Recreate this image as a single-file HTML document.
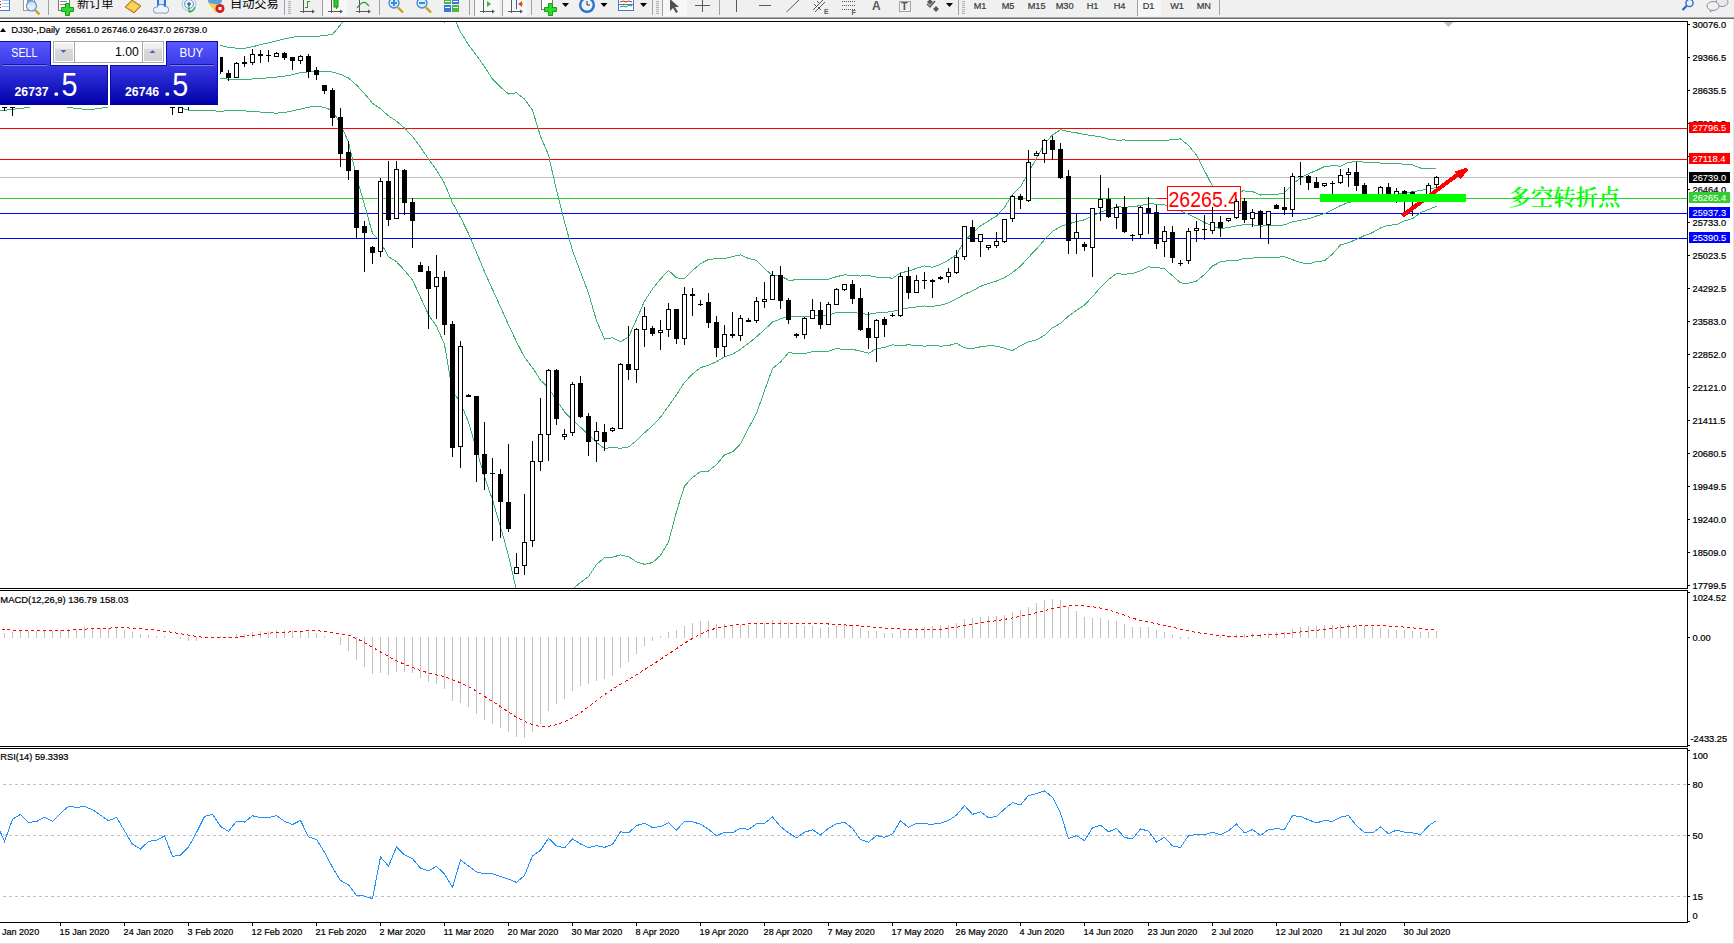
<!DOCTYPE html><html><head><meta charset="utf-8"><title>DJ30-,Daily</title>
<style>html,body{margin:0;padding:0;background:#fff;overflow:hidden}svg{display:block}</style></head><body>
<svg width="1734" height="944" viewBox="0 0 1734 944" font-family='"Liberation Sans", Arial, sans-serif'>
<defs>
<clipPath id="cm"><rect x="0" y="22" width="1687" height="566"/></clipPath>
<clipPath id="cmacd"><rect x="0" y="591" width="1687" height="155"/></clipPath>
<clipPath id="crsi"><rect x="0" y="749" width="1687" height="173"/></clipPath>
<linearGradient id="gpanel" x1="0" y1="0" x2="0" y2="1"><stop offset="0" stop-color="#5a5aff"/><stop offset="0.35" stop-color="#3c3ce8"/><stop offset="1" stop-color="#0000a8"/></linearGradient>
<linearGradient id="gpanel2" x1="0" y1="0" x2="0" y2="1"><stop offset="0" stop-color="#3a32e2"/><stop offset="1" stop-color="#0202aa"/></linearGradient>
<linearGradient id="gbtn" x1="0" y1="0" x2="0" y2="1"><stop offset="0" stop-color="#f2f2f2"/><stop offset="0.35" stop-color="#ececec"/><stop offset="0.36" stop-color="#dadada"/><stop offset="1" stop-color="#d2d2d2"/></linearGradient>
</defs>
<rect width="1734" height="944" fill="#ffffff"/>
<g id="toolbar">
<rect x="0" y="0" width="1734" height="17" fill="#f0f0f0"/>
<rect x="0" y="17" width="1734" height="1" fill="#a9a9a9"/>
<rect x="0" y="18" width="1734" height="1" fill="#6e6e6e"/>
</g>
<rect x="1733" y="19" width="1" height="925" fill="#e3e3e3"/>
<rect x="0" y="943" width="1734" height="1" fill="#e3e3e3"/>
<g id="main">
<g shape-rendering="crispEdges">
<rect x="0" y="128" width="1687" height="1" fill="#ff0000"/>
<rect x="0" y="159" width="1687" height="1" fill="#ff0000"/>
<rect x="0" y="177" width="1687" height="1" fill="#c0c0c0"/>
<rect x="0" y="198" width="1687" height="1" fill="#32cd32"/>
<rect x="0" y="213" width="1687" height="1" fill="#0000ff"/>
<rect x="0" y="238" width="1687" height="1" fill="#0000ff"/>
</g>
<g clip-path="url(#cm)">
<polyline points="-4.5,81.94 4.5,82.52 12.5,82.79 20.5,80.19 28.5,79.07 36.5,78.19 44.5,77.39 52.5,75.82 60.5,73.47 68.5,68.43 76.5,63.40 84.5,59.59 92.5,56.64 100.5,54.75 108.5,53.27 116.5,52.75 124.5,53.01 132.5,53.00 140.5,52.62 148.5,52.79 156.5,52.84 164.5,55.20 172.5,53.24 180.5,51.70 188.5,51.15 196.5,51.18 204.5,49.31 212.5,47.01 220.5,45.50 228.5,47.40 236.5,48.20 244.5,48.20 252.5,46.80 260.5,44.66 268.5,42.90 276.5,40.89 284.5,38.95 292.5,37.12 300.5,36.50 308.5,36.50 316.5,36.50 324.5,35.40 332.5,34.50 340.5,24.90 348.5,13.65 356.5,-6.68 364.5,-17.81 372.5,-26.61 380.5,-24.55 388.5,-25.06 396.5,-19.38 404.5,-14.17 412.5,-7.05 420.5,-2.77 428.5,2.97 436.5,14.02 444.5,22.41 452.5,14.56 460.5,31.87 468.5,44.97 476.5,55.32 484.5,66.71 492.5,79.23 500.5,86.99 508.5,94.03 516.5,92.83 524.5,99.01 532.5,110.28 540.5,136.34 548.5,155.05 556.5,190.13 564.5,221.90 572.5,250.63 580.5,272.01 588.5,293.17 596.5,320.66 604.5,339.06 612.5,337.69 620.5,341.68 628.5,337.13 636.5,319.53 644.5,301.20 652.5,288.93 660.5,278.97 668.5,270.33 676.5,277.89 684.5,278.75 692.5,270.58 700.5,263.62 708.5,259.48 716.5,258.66 724.5,258.59 732.5,256.63 740.5,254.91 748.5,258.45 756.5,260.30 764.5,268.62 772.5,275.54 780.5,275.77 788.5,280.17 796.5,279.91 804.5,280.00 812.5,279.56 820.5,279.64 828.5,279.15 836.5,276.68 844.5,274.90 852.5,275.29 860.5,276.02 868.5,275.47 876.5,277.13 884.5,277.53 892.5,278.17 900.5,272.84 908.5,271.20 916.5,268.26 924.5,265.86 932.5,267.19 940.5,264.35 948.5,260.10 956.5,254.57 964.5,240.72 972.5,233.26 980.5,225.90 988.5,220.96 996.5,215.96 1004.5,207.36 1012.5,194.53 1020.5,186.60 1028.5,172.78 1036.5,158.09 1044.5,144.15 1052.5,134.97 1060.5,129.67 1068.5,131.67 1076.5,132.80 1084.5,134.49 1092.5,135.62 1100.5,136.73 1108.5,139.09 1116.5,140.07 1124.5,139.98 1132.5,140.25 1140.5,140.08 1148.5,140.90 1156.5,140.68 1164.5,140.51 1172.5,139.70 1180.5,138.86 1188.5,145.47 1196.5,155.07 1204.5,170.62 1212.5,186.24 1220.5,195.42 1228.5,194.46 1236.5,191.05 1244.5,190.99 1252.5,191.55 1260.5,195.02 1268.5,194.26 1276.5,194.59 1284.5,192.88 1292.5,183.93 1300.5,178.08 1308.5,173.62 1316.5,170.48 1324.5,166.46 1332.5,165.76 1340.5,166.12 1348.5,162.42 1356.5,161.49 1364.5,162.09 1372.5,162.41 1380.5,163.03 1388.5,163.64 1396.5,163.25 1404.5,164.37 1412.5,164.91 1420.5,168.04 1428.5,168.74 1436.5,168.68" fill="none" stroke="#3cb371" stroke-width="1" shape-rendering="crispEdges" />
<polyline points="-4.5,100.89 4.5,100.49 12.5,99.45 20.5,97.56 28.5,96.20 36.5,94.90 44.5,93.40 52.5,92.11 60.5,90.80 68.5,88.89 76.5,87.04 84.5,85.17 92.5,83.64 100.5,82.36 108.5,81.13 116.5,79.54 124.5,78.52 132.5,78.80 140.5,79.05 148.5,78.84 156.5,78.75 164.5,77.50 172.5,78.15 180.5,79.60 188.5,80.40 196.5,80.45 204.5,79.55 212.5,78.55 220.5,78.40 228.5,79.15 236.5,79.30 244.5,79.45 252.5,79.00 260.5,78.45 268.5,77.85 276.5,77.05 284.5,76.10 292.5,74.75 300.5,72.65 308.5,71.80 316.5,71.15 324.5,71.55 332.5,72.05 340.5,74.40 348.5,77.95 356.5,85.10 364.5,93.60 372.5,103.30 380.5,108.75 388.5,115.85 396.5,121.15 404.5,128.10 412.5,136.45 420.5,147.25 428.5,158.90 436.5,170.10 444.5,183.45 452.5,202.80 460.5,217.30 468.5,233.55 476.5,252.55 484.5,271.70 492.5,289.50 500.5,306.90 508.5,324.80 516.5,341.75 524.5,357.20 532.5,367.60 540.5,380.25 548.5,387.75 556.5,400.25 564.5,411.80 572.5,419.95 580.5,427.20 588.5,434.85 596.5,442.55 604.5,448.40 612.5,447.40 620.5,448.30 628.5,446.95 636.5,440.65 644.5,432.75 652.5,425.75 660.5,417.15 668.5,406.15 676.5,394.75 684.5,382.35 692.5,374.10 700.5,367.60 708.5,365.25 716.5,361.70 724.5,356.70 732.5,354.30 740.5,349.35 748.5,343.35 756.5,336.85 764.5,329.70 772.5,322.05 780.5,318.90 788.5,316.40 796.5,316.75 804.5,316.85 812.5,315.65 820.5,315.40 828.5,315.15 836.5,312.65 844.5,312.15 852.5,312.30 860.5,313.60 868.5,314.35 876.5,312.95 884.5,312.50 892.5,311.50 900.5,309.40 908.5,307.95 916.5,306.90 924.5,306.00 932.5,306.35 940.5,305.25 948.5,302.85 956.5,298.90 964.5,294.30 972.5,290.90 980.5,286.35 988.5,283.40 996.5,281.00 1004.5,277.75 1012.5,272.60 1020.5,266.10 1028.5,257.30 1036.5,248.95 1044.5,239.70 1052.5,231.40 1060.5,226.50 1068.5,223.90 1076.5,221.50 1084.5,219.80 1092.5,216.10 1100.5,212.10 1108.5,209.35 1116.5,206.85 1124.5,207.15 1132.5,206.85 1140.5,205.50 1148.5,203.90 1156.5,204.05 1164.5,204.65 1172.5,207.75 1180.5,210.90 1188.5,214.35 1196.5,218.10 1204.5,222.55 1212.5,226.15 1220.5,228.65 1228.5,227.50 1236.5,225.95 1244.5,224.60 1252.5,224.80 1260.5,226.10 1268.5,225.80 1276.5,225.90 1284.5,224.80 1292.5,221.80 1300.5,220.30 1308.5,218.80 1316.5,216.00 1324.5,213.60 1332.5,209.90 1340.5,205.50 1348.5,202.55 1356.5,200.45 1364.5,198.80 1372.5,197.55 1380.5,195.50 1388.5,194.45 1396.5,193.95 1404.5,192.65 1412.5,191.80 1420.5,190.40 1428.5,189.10 1436.5,187.50" fill="none" stroke="#3cb371" stroke-width="1" shape-rendering="crispEdges" />
<polyline points="-4.5,111.00 4.5,110.40 12.5,109.30 20.5,108.40 28.5,107.40 36.5,105.00 44.5,104.00 52.5,104.00 60.5,105.00 68.5,107.50 76.5,108.50 84.5,109.30 92.5,109.30 100.5,108.30 108.5,107.00 116.5,105.00 124.5,104.00 132.5,103.00 140.5,103.00 148.5,103.00 156.5,103.00 164.5,104.00 172.5,105.00 180.5,108.00 188.5,110.20 196.5,110.20 204.5,110.20 212.5,110.80 220.5,111.27 228.5,110.62 236.5,110.51 244.5,110.94 252.5,111.42 260.5,112.03 268.5,112.71 276.5,113.13 284.5,112.55 292.5,110.95 300.5,109.02 308.5,107.18 316.5,106.44 324.5,107.20 332.5,110.79 340.5,123.90 348.5,142.25 356.5,176.88 364.5,205.01 372.5,233.21 380.5,242.05 388.5,256.76 396.5,261.68 404.5,270.37 412.5,279.95 420.5,297.27 428.5,314.83 436.5,326.18 444.5,344.49 452.5,391.04 460.5,402.73 468.5,422.13 476.5,449.78 484.5,476.69 492.5,499.77 500.5,526.81 508.5,555.57 516.5,590.67 524.5,615.39 532.5,624.92 540.5,624.16 548.5,620.45 556.5,610.37 564.5,601.70 572.5,589.27 580.5,582.39 588.5,576.53 596.5,564.44 604.5,557.74 612.5,557.11 620.5,554.92 628.5,556.77 636.5,561.77 644.5,564.30 652.5,562.57 660.5,555.33 668.5,541.97 676.5,511.61 684.5,485.95 692.5,477.62 700.5,471.58 708.5,471.02 716.5,464.74 724.5,454.81 732.5,451.97 740.5,443.79 748.5,428.25 756.5,413.40 764.5,390.78 772.5,368.56 780.5,362.03 788.5,352.63 796.5,353.59 804.5,353.70 812.5,351.74 820.5,351.16 828.5,351.15 836.5,348.62 844.5,349.40 852.5,349.31 860.5,351.18 868.5,353.23 876.5,348.77 884.5,347.47 892.5,344.83 900.5,345.96 908.5,344.70 916.5,345.54 924.5,346.14 932.5,345.51 940.5,346.15 948.5,345.60 956.5,343.23 964.5,347.88 972.5,348.54 980.5,346.80 988.5,345.84 996.5,346.04 1004.5,348.14 1012.5,350.67 1020.5,345.60 1028.5,341.82 1036.5,339.81 1044.5,335.25 1052.5,327.83 1060.5,323.33 1068.5,316.13 1076.5,310.20 1084.5,305.11 1092.5,296.58 1100.5,287.47 1108.5,279.61 1116.5,273.63 1124.5,274.32 1132.5,273.45 1140.5,270.92 1148.5,266.90 1156.5,267.42 1164.5,268.79 1172.5,275.80 1180.5,282.94 1188.5,283.23 1196.5,281.13 1204.5,274.48 1212.5,266.06 1220.5,261.88 1228.5,260.54 1236.5,260.85 1244.5,258.21 1252.5,258.05 1260.5,257.18 1268.5,257.34 1276.5,257.21 1284.5,256.72 1292.5,259.67 1300.5,262.52 1308.5,263.98 1316.5,261.52 1324.5,260.74 1332.5,254.04 1340.5,244.88 1348.5,242.68 1356.5,239.41 1364.5,235.51 1372.5,232.69 1380.5,227.97 1388.5,225.26 1396.5,224.65 1404.5,220.93 1412.5,218.69 1420.5,212.76 1428.5,209.46 1436.5,206.32" fill="none" stroke="#3cb371" stroke-width="1" shape-rendering="crispEdges" />
</g>
<rect x="1157" y="198" width="10" height="1" fill="#ff0000"/>
<rect x="1167.5" y="186.5" width="73" height="24" fill="#ffffff" stroke="#ff0000" stroke-width="1"/>
<text x="1168.5" y="207" font-size="22.8" fill="#ff0000" textLength="70.5" lengthAdjust="spacingAndGlyphs">26265.4</text>
<g shape-rendering="crispEdges" clip-path="url(#cm)">
<rect x="4" y="90" width="1" height="21" fill="#000"/>
<rect x="2" y="93" width="5" height="15" fill="#000"/>
<rect x="12" y="93" width="1" height="23" fill="#000"/>
<rect x="10" y="95" width="5" height="13" fill="#000"/>
<rect x="11" y="96" width="3" height="11" fill="#fff"/>
<rect x="20" y="76" width="1" height="24" fill="#000"/>
<rect x="18" y="78" width="5" height="17" fill="#000"/>
<rect x="19" y="79" width="3" height="15" fill="#fff"/>
<rect x="28" y="73" width="1" height="13" fill="#000"/>
<rect x="26" y="78" width="5" height="6" fill="#000"/>
<rect x="36" y="81" width="1" height="8" fill="#000"/>
<rect x="34" y="84" width="5" height="1" fill="#000"/>
<rect x="44" y="77" width="1" height="12" fill="#000"/>
<rect x="42" y="81" width="5" height="3" fill="#000"/>
<rect x="43" y="82" width="3" height="1" fill="#fff"/>
<rect x="52" y="78" width="1" height="8" fill="#000"/>
<rect x="50" y="79" width="5" height="2" fill="#000"/>
<rect x="60" y="74" width="1" height="9" fill="#000"/>
<rect x="58" y="75" width="5" height="4" fill="#000"/>
<rect x="59" y="76" width="3" height="2" fill="#fff"/>
<rect x="68" y="60" width="1" height="20" fill="#000"/>
<rect x="66" y="63" width="5" height="12" fill="#000"/>
<rect x="67" y="64" width="3" height="10" fill="#fff"/>
<rect x="76" y="58" width="1" height="7" fill="#000"/>
<rect x="74" y="60" width="5" height="3" fill="#000"/>
<rect x="75" y="61" width="3" height="1" fill="#fff"/>
<rect x="84" y="56" width="1" height="10" fill="#000"/>
<rect x="82" y="60" width="5" height="1" fill="#000"/>
<rect x="92" y="56" width="1" height="11" fill="#000"/>
<rect x="90" y="61" width="5" height="2" fill="#000"/>
<rect x="100" y="59" width="1" height="10" fill="#000"/>
<rect x="98" y="63" width="5" height="4" fill="#000"/>
<rect x="108" y="65" width="1" height="5" fill="#000"/>
<rect x="106" y="67" width="5" height="1" fill="#000"/>
<rect x="116" y="63" width="1" height="10" fill="#000"/>
<rect x="114" y="68" width="5" height="1" fill="#000"/>
<rect x="124" y="68" width="1" height="10" fill="#000"/>
<rect x="122" y="69" width="5" height="8" fill="#000"/>
<rect x="132" y="75" width="1" height="18" fill="#000"/>
<rect x="130" y="77" width="5" height="11" fill="#000"/>
<rect x="140" y="87" width="1" height="14" fill="#000"/>
<rect x="138" y="88" width="5" height="10" fill="#000"/>
<rect x="148" y="88" width="1" height="13" fill="#000"/>
<rect x="146" y="89" width="5" height="9" fill="#000"/>
<rect x="147" y="90" width="3" height="7" fill="#fff"/>
<rect x="156" y="84" width="1" height="10" fill="#000"/>
<rect x="154" y="88" width="5" height="1" fill="#000"/>
<rect x="164" y="79" width="1" height="13" fill="#000"/>
<rect x="162" y="83" width="5" height="5" fill="#000"/>
<rect x="163" y="84" width="3" height="3" fill="#fff"/>
<rect x="172" y="88" width="1" height="27" fill="#000"/>
<rect x="170" y="92" width="5" height="16" fill="#000"/>
<rect x="180" y="100" width="1" height="13" fill="#000"/>
<rect x="178" y="107" width="5" height="6" fill="#000"/>
<rect x="179" y="108" width="3" height="4" fill="#fff"/>
<rect x="188" y="98" width="1" height="12" fill="#000"/>
<rect x="186" y="100" width="5" height="7" fill="#000"/>
<rect x="187" y="101" width="3" height="5" fill="#fff"/>
<rect x="196" y="81" width="1" height="23" fill="#000"/>
<rect x="194" y="85" width="5" height="15" fill="#000"/>
<rect x="195" y="86" width="3" height="13" fill="#fff"/>
<rect x="204" y="59" width="1" height="28" fill="#000"/>
<rect x="202" y="63" width="5" height="22" fill="#000"/>
<rect x="203" y="64" width="3" height="20" fill="#fff"/>
<rect x="212" y="56" width="1" height="8" fill="#000"/>
<rect x="210" y="59" width="5" height="4" fill="#000"/>
<rect x="211" y="60" width="3" height="2" fill="#fff"/>
<rect x="220" y="57" width="1" height="17" fill="#000"/>
<rect x="218" y="57" width="5" height="15" fill="#000"/>
<rect x="228" y="70" width="1" height="11" fill="#000"/>
<rect x="226" y="73" width="5" height="5" fill="#000"/>
<rect x="236" y="62" width="1" height="16" fill="#000"/>
<rect x="234" y="63" width="5" height="15" fill="#000"/>
<rect x="235" y="64" width="3" height="13" fill="#fff"/>
<rect x="244" y="56" width="1" height="11" fill="#000"/>
<rect x="242" y="62" width="5" height="2" fill="#000"/>
<rect x="252" y="49" width="1" height="16" fill="#000"/>
<rect x="250" y="54" width="5" height="9" fill="#000"/>
<rect x="251" y="55" width="3" height="7" fill="#fff"/>
<rect x="260" y="50" width="1" height="13" fill="#000"/>
<rect x="258" y="54" width="5" height="2" fill="#000"/>
<rect x="268" y="50" width="1" height="12" fill="#000"/>
<rect x="266" y="55" width="5" height="1" fill="#000"/>
<rect x="276" y="52" width="1" height="5" fill="#000"/>
<rect x="274" y="53" width="5" height="4" fill="#000"/>
<rect x="275" y="54" width="3" height="2" fill="#fff"/>
<rect x="284" y="52" width="1" height="8" fill="#000"/>
<rect x="282" y="53" width="5" height="5" fill="#000"/>
<rect x="292" y="57" width="1" height="13" fill="#000"/>
<rect x="290" y="57" width="5" height="4" fill="#000"/>
<rect x="300" y="55" width="1" height="9" fill="#000"/>
<rect x="298" y="56" width="5" height="5" fill="#000"/>
<rect x="299" y="57" width="3" height="3" fill="#fff"/>
<rect x="308" y="54" width="1" height="24" fill="#000"/>
<rect x="306" y="56" width="5" height="16" fill="#000"/>
<rect x="316" y="67" width="1" height="13" fill="#000"/>
<rect x="314" y="70" width="5" height="5" fill="#000"/>
<rect x="324" y="85" width="1" height="9" fill="#000"/>
<rect x="322" y="85" width="5" height="6" fill="#000"/>
<rect x="332" y="88" width="1" height="38" fill="#000"/>
<rect x="330" y="90" width="5" height="28" fill="#000"/>
<rect x="340" y="108" width="1" height="59" fill="#000"/>
<rect x="338" y="117" width="5" height="37" fill="#000"/>
<rect x="348" y="141" width="1" height="39" fill="#000"/>
<rect x="346" y="152" width="5" height="19" fill="#000"/>
<rect x="356" y="170" width="1" height="68" fill="#000"/>
<rect x="354" y="170" width="5" height="58" fill="#000"/>
<rect x="364" y="221" width="1" height="51" fill="#000"/>
<rect x="362" y="226" width="5" height="7" fill="#000"/>
<rect x="372" y="246" width="1" height="18" fill="#000"/>
<rect x="370" y="247" width="5" height="6" fill="#000"/>
<rect x="380" y="178" width="1" height="79" fill="#000"/>
<rect x="378" y="181" width="5" height="71" fill="#000"/>
<rect x="379" y="182" width="3" height="69" fill="#fff"/>
<rect x="388" y="161" width="1" height="65" fill="#000"/>
<rect x="386" y="181" width="5" height="39" fill="#000"/>
<rect x="396" y="161" width="1" height="58" fill="#000"/>
<rect x="394" y="169" width="5" height="50" fill="#000"/>
<rect x="395" y="170" width="3" height="48" fill="#fff"/>
<rect x="404" y="169" width="1" height="46" fill="#000"/>
<rect x="402" y="170" width="5" height="33" fill="#000"/>
<rect x="412" y="198" width="1" height="50" fill="#000"/>
<rect x="410" y="202" width="5" height="19" fill="#000"/>
<rect x="420" y="262" width="1" height="10" fill="#000"/>
<rect x="418" y="265" width="5" height="7" fill="#000"/>
<rect x="428" y="266" width="1" height="63" fill="#000"/>
<rect x="426" y="271" width="5" height="18" fill="#000"/>
<rect x="436" y="255" width="1" height="64" fill="#000"/>
<rect x="434" y="277" width="5" height="10" fill="#000"/>
<rect x="435" y="278" width="3" height="8" fill="#fff"/>
<rect x="444" y="271" width="1" height="64" fill="#000"/>
<rect x="442" y="277" width="5" height="48" fill="#000"/>
<rect x="452" y="321" width="1" height="136" fill="#000"/>
<rect x="450" y="324" width="5" height="124" fill="#000"/>
<rect x="460" y="341" width="1" height="127" fill="#000"/>
<rect x="458" y="346" width="5" height="101" fill="#000"/>
<rect x="459" y="347" width="3" height="99" fill="#fff"/>
<rect x="468" y="394" width="1" height="3" fill="#000"/>
<rect x="466" y="395" width="5" height="2" fill="#000"/>
<rect x="476" y="396" width="1" height="86" fill="#000"/>
<rect x="474" y="396" width="5" height="59" fill="#000"/>
<rect x="484" y="422" width="1" height="68" fill="#000"/>
<rect x="482" y="454" width="5" height="20" fill="#000"/>
<rect x="492" y="458" width="1" height="83" fill="#000"/>
<rect x="490" y="473" width="5" height="1" fill="#000"/>
<rect x="500" y="469" width="1" height="69" fill="#000"/>
<rect x="498" y="474" width="5" height="28" fill="#000"/>
<rect x="508" y="444" width="1" height="88" fill="#000"/>
<rect x="506" y="502" width="5" height="27" fill="#000"/>
<rect x="516" y="553" width="1" height="21" fill="#000"/>
<rect x="514" y="567" width="5" height="7" fill="#000"/>
<rect x="515" y="568" width="3" height="5" fill="#fff"/>
<rect x="524" y="494" width="1" height="81" fill="#000"/>
<rect x="522" y="542" width="5" height="24" fill="#000"/>
<rect x="523" y="543" width="3" height="22" fill="#fff"/>
<rect x="532" y="441" width="1" height="106" fill="#000"/>
<rect x="530" y="461" width="5" height="80" fill="#000"/>
<rect x="531" y="462" width="3" height="78" fill="#fff"/>
<rect x="540" y="398" width="1" height="73" fill="#000"/>
<rect x="538" y="434" width="5" height="28" fill="#000"/>
<rect x="539" y="435" width="3" height="26" fill="#fff"/>
<rect x="548" y="369" width="1" height="92" fill="#000"/>
<rect x="546" y="370" width="5" height="65" fill="#000"/>
<rect x="547" y="371" width="3" height="63" fill="#fff"/>
<rect x="556" y="369" width="1" height="56" fill="#000"/>
<rect x="554" y="370" width="5" height="49" fill="#000"/>
<rect x="564" y="429" width="1" height="11" fill="#000"/>
<rect x="562" y="434" width="5" height="3" fill="#000"/>
<rect x="563" y="435" width="3" height="1" fill="#fff"/>
<rect x="572" y="382" width="1" height="54" fill="#000"/>
<rect x="570" y="384" width="5" height="49" fill="#000"/>
<rect x="571" y="385" width="3" height="47" fill="#fff"/>
<rect x="580" y="376" width="1" height="42" fill="#000"/>
<rect x="578" y="383" width="5" height="34" fill="#000"/>
<rect x="588" y="413" width="1" height="43" fill="#000"/>
<rect x="586" y="416" width="5" height="26" fill="#000"/>
<rect x="596" y="422" width="1" height="40" fill="#000"/>
<rect x="594" y="431" width="5" height="10" fill="#000"/>
<rect x="595" y="432" width="3" height="8" fill="#fff"/>
<rect x="604" y="424" width="1" height="27" fill="#000"/>
<rect x="602" y="432" width="5" height="10" fill="#000"/>
<rect x="612" y="427" width="1" height="5" fill="#000"/>
<rect x="610" y="428" width="5" height="3" fill="#000"/>
<rect x="611" y="429" width="3" height="1" fill="#fff"/>
<rect x="620" y="363" width="1" height="66" fill="#000"/>
<rect x="618" y="364" width="5" height="65" fill="#000"/>
<rect x="619" y="365" width="3" height="63" fill="#fff"/>
<rect x="628" y="326" width="1" height="54" fill="#000"/>
<rect x="626" y="364" width="5" height="6" fill="#000"/>
<rect x="636" y="328" width="1" height="55" fill="#000"/>
<rect x="634" y="329" width="5" height="41" fill="#000"/>
<rect x="635" y="330" width="3" height="39" fill="#fff"/>
<rect x="644" y="307" width="1" height="40" fill="#000"/>
<rect x="642" y="316" width="5" height="14" fill="#000"/>
<rect x="643" y="317" width="3" height="12" fill="#fff"/>
<rect x="652" y="326" width="1" height="10" fill="#000"/>
<rect x="650" y="328" width="5" height="6" fill="#000"/>
<rect x="660" y="320" width="1" height="30" fill="#000"/>
<rect x="658" y="330" width="5" height="3" fill="#000"/>
<rect x="659" y="331" width="3" height="1" fill="#fff"/>
<rect x="668" y="303" width="1" height="34" fill="#000"/>
<rect x="666" y="309" width="5" height="21" fill="#000"/>
<rect x="667" y="310" width="3" height="19" fill="#fff"/>
<rect x="676" y="309" width="1" height="35" fill="#000"/>
<rect x="674" y="309" width="5" height="30" fill="#000"/>
<rect x="684" y="287" width="1" height="58" fill="#000"/>
<rect x="682" y="294" width="5" height="45" fill="#000"/>
<rect x="683" y="295" width="3" height="43" fill="#fff"/>
<rect x="692" y="288" width="1" height="28" fill="#000"/>
<rect x="690" y="294" width="5" height="2" fill="#000"/>
<rect x="700" y="300" width="1" height="6" fill="#000"/>
<rect x="698" y="304" width="5" height="1" fill="#000"/>
<rect x="708" y="293" width="1" height="35" fill="#000"/>
<rect x="706" y="302" width="5" height="21" fill="#000"/>
<rect x="716" y="316" width="1" height="41" fill="#000"/>
<rect x="714" y="322" width="5" height="26" fill="#000"/>
<rect x="724" y="325" width="1" height="32" fill="#000"/>
<rect x="722" y="334" width="5" height="13" fill="#000"/>
<rect x="723" y="335" width="3" height="11" fill="#fff"/>
<rect x="732" y="312" width="1" height="26" fill="#000"/>
<rect x="730" y="334" width="5" height="2" fill="#000"/>
<rect x="740" y="315" width="1" height="26" fill="#000"/>
<rect x="738" y="318" width="5" height="18" fill="#000"/>
<rect x="739" y="319" width="3" height="16" fill="#fff"/>
<rect x="748" y="318" width="1" height="4" fill="#000"/>
<rect x="746" y="320" width="5" height="2" fill="#000"/>
<rect x="756" y="297" width="1" height="26" fill="#000"/>
<rect x="754" y="301" width="5" height="20" fill="#000"/>
<rect x="755" y="302" width="3" height="18" fill="#fff"/>
<rect x="764" y="282" width="1" height="26" fill="#000"/>
<rect x="762" y="299" width="5" height="3" fill="#000"/>
<rect x="763" y="300" width="3" height="1" fill="#fff"/>
<rect x="772" y="271" width="1" height="29" fill="#000"/>
<rect x="770" y="275" width="5" height="25" fill="#000"/>
<rect x="771" y="276" width="3" height="23" fill="#fff"/>
<rect x="780" y="266" width="1" height="43" fill="#000"/>
<rect x="778" y="275" width="5" height="26" fill="#000"/>
<rect x="788" y="298" width="1" height="26" fill="#000"/>
<rect x="786" y="300" width="5" height="20" fill="#000"/>
<rect x="796" y="333" width="1" height="5" fill="#000"/>
<rect x="794" y="334" width="5" height="2" fill="#000"/>
<rect x="804" y="317" width="1" height="22" fill="#000"/>
<rect x="802" y="318" width="5" height="17" fill="#000"/>
<rect x="803" y="319" width="3" height="15" fill="#fff"/>
<rect x="812" y="299" width="1" height="20" fill="#000"/>
<rect x="810" y="310" width="5" height="9" fill="#000"/>
<rect x="811" y="311" width="3" height="7" fill="#fff"/>
<rect x="820" y="302" width="1" height="27" fill="#000"/>
<rect x="818" y="310" width="5" height="15" fill="#000"/>
<rect x="828" y="302" width="1" height="23" fill="#000"/>
<rect x="826" y="304" width="5" height="21" fill="#000"/>
<rect x="827" y="305" width="3" height="19" fill="#fff"/>
<rect x="836" y="288" width="1" height="17" fill="#000"/>
<rect x="834" y="289" width="5" height="16" fill="#000"/>
<rect x="835" y="290" width="3" height="14" fill="#fff"/>
<rect x="844" y="284" width="1" height="7" fill="#000"/>
<rect x="842" y="284" width="5" height="6" fill="#000"/>
<rect x="843" y="285" width="3" height="4" fill="#fff"/>
<rect x="852" y="280" width="1" height="24" fill="#000"/>
<rect x="850" y="284" width="5" height="15" fill="#000"/>
<rect x="860" y="288" width="1" height="43" fill="#000"/>
<rect x="858" y="298" width="5" height="32" fill="#000"/>
<rect x="868" y="312" width="1" height="37" fill="#000"/>
<rect x="866" y="328" width="5" height="10" fill="#000"/>
<rect x="876" y="319" width="1" height="43" fill="#000"/>
<rect x="874" y="320" width="5" height="18" fill="#000"/>
<rect x="875" y="321" width="3" height="16" fill="#fff"/>
<rect x="884" y="317" width="1" height="20" fill="#000"/>
<rect x="882" y="319" width="5" height="6" fill="#000"/>
<rect x="892" y="313" width="1" height="4" fill="#000"/>
<rect x="890" y="315" width="5" height="1" fill="#000"/>
<rect x="900" y="273" width="1" height="44" fill="#000"/>
<rect x="898" y="276" width="5" height="40" fill="#000"/>
<rect x="899" y="277" width="3" height="38" fill="#fff"/>
<rect x="908" y="267" width="1" height="32" fill="#000"/>
<rect x="906" y="276" width="5" height="17" fill="#000"/>
<rect x="916" y="275" width="1" height="18" fill="#000"/>
<rect x="914" y="280" width="5" height="13" fill="#000"/>
<rect x="915" y="281" width="3" height="11" fill="#fff"/>
<rect x="924" y="272" width="1" height="17" fill="#000"/>
<rect x="922" y="280" width="5" height="1" fill="#000"/>
<rect x="932" y="279" width="1" height="19" fill="#000"/>
<rect x="930" y="280" width="5" height="2" fill="#000"/>
<rect x="940" y="276" width="1" height="4" fill="#000"/>
<rect x="938" y="277" width="5" height="2" fill="#000"/>
<rect x="948" y="268" width="1" height="15" fill="#000"/>
<rect x="946" y="272" width="5" height="5" fill="#000"/>
<rect x="947" y="273" width="3" height="3" fill="#fff"/>
<rect x="956" y="250" width="1" height="24" fill="#000"/>
<rect x="954" y="257" width="5" height="16" fill="#000"/>
<rect x="955" y="258" width="3" height="14" fill="#fff"/>
<rect x="964" y="226" width="1" height="34" fill="#000"/>
<rect x="962" y="226" width="5" height="31" fill="#000"/>
<rect x="963" y="227" width="3" height="29" fill="#fff"/>
<rect x="972" y="220" width="1" height="22" fill="#000"/>
<rect x="970" y="227" width="5" height="15" fill="#000"/>
<rect x="980" y="234" width="1" height="23" fill="#000"/>
<rect x="978" y="234" width="5" height="8" fill="#000"/>
<rect x="979" y="235" width="3" height="6" fill="#fff"/>
<rect x="988" y="245" width="1" height="5" fill="#000"/>
<rect x="986" y="245" width="5" height="3" fill="#000"/>
<rect x="987" y="246" width="3" height="1" fill="#fff"/>
<rect x="996" y="232" width="1" height="16" fill="#000"/>
<rect x="994" y="241" width="5" height="5" fill="#000"/>
<rect x="995" y="242" width="3" height="3" fill="#fff"/>
<rect x="1004" y="219" width="1" height="24" fill="#000"/>
<rect x="1002" y="219" width="5" height="23" fill="#000"/>
<rect x="1003" y="220" width="3" height="21" fill="#fff"/>
<rect x="1012" y="195" width="1" height="27" fill="#000"/>
<rect x="1010" y="196" width="5" height="23" fill="#000"/>
<rect x="1011" y="197" width="3" height="21" fill="#fff"/>
<rect x="1020" y="194" width="1" height="15" fill="#000"/>
<rect x="1018" y="196" width="5" height="4" fill="#000"/>
<rect x="1028" y="150" width="1" height="52" fill="#000"/>
<rect x="1026" y="162" width="5" height="39" fill="#000"/>
<rect x="1027" y="163" width="3" height="37" fill="#fff"/>
<rect x="1036" y="151" width="1" height="5" fill="#000"/>
<rect x="1034" y="153" width="5" height="3" fill="#000"/>
<rect x="1035" y="154" width="3" height="1" fill="#fff"/>
<rect x="1044" y="139" width="1" height="24" fill="#000"/>
<rect x="1042" y="140" width="5" height="14" fill="#000"/>
<rect x="1043" y="141" width="3" height="12" fill="#fff"/>
<rect x="1052" y="136" width="1" height="24" fill="#000"/>
<rect x="1050" y="140" width="5" height="10" fill="#000"/>
<rect x="1060" y="143" width="1" height="36" fill="#000"/>
<rect x="1058" y="149" width="5" height="29" fill="#000"/>
<rect x="1068" y="170" width="1" height="84" fill="#000"/>
<rect x="1066" y="176" width="5" height="65" fill="#000"/>
<rect x="1076" y="213" width="1" height="41" fill="#000"/>
<rect x="1074" y="232" width="5" height="7" fill="#000"/>
<rect x="1075" y="233" width="3" height="5" fill="#fff"/>
<rect x="1084" y="242" width="1" height="9" fill="#000"/>
<rect x="1082" y="244" width="5" height="3" fill="#000"/>
<rect x="1092" y="208" width="1" height="69" fill="#000"/>
<rect x="1090" y="208" width="5" height="40" fill="#000"/>
<rect x="1091" y="209" width="3" height="38" fill="#fff"/>
<rect x="1100" y="175" width="1" height="46" fill="#000"/>
<rect x="1098" y="199" width="5" height="9" fill="#000"/>
<rect x="1099" y="200" width="3" height="7" fill="#fff"/>
<rect x="1108" y="188" width="1" height="30" fill="#000"/>
<rect x="1106" y="199" width="5" height="18" fill="#000"/>
<rect x="1116" y="204" width="1" height="25" fill="#000"/>
<rect x="1114" y="207" width="5" height="11" fill="#000"/>
<rect x="1115" y="208" width="3" height="9" fill="#fff"/>
<rect x="1124" y="196" width="1" height="37" fill="#000"/>
<rect x="1122" y="207" width="5" height="25" fill="#000"/>
<rect x="1132" y="234" width="1" height="7" fill="#000"/>
<rect x="1130" y="235" width="5" height="1" fill="#000"/>
<rect x="1140" y="206" width="1" height="32" fill="#000"/>
<rect x="1138" y="207" width="5" height="28" fill="#000"/>
<rect x="1139" y="208" width="3" height="26" fill="#fff"/>
<rect x="1148" y="197" width="1" height="37" fill="#000"/>
<rect x="1146" y="208" width="5" height="5" fill="#000"/>
<rect x="1156" y="205" width="1" height="44" fill="#000"/>
<rect x="1154" y="212" width="5" height="32" fill="#000"/>
<rect x="1164" y="226" width="1" height="31" fill="#000"/>
<rect x="1162" y="231" width="5" height="11" fill="#000"/>
<rect x="1163" y="232" width="3" height="9" fill="#fff"/>
<rect x="1172" y="226" width="1" height="37" fill="#000"/>
<rect x="1170" y="232" width="5" height="26" fill="#000"/>
<rect x="1180" y="260" width="1" height="6" fill="#000"/>
<rect x="1178" y="263" width="5" height="1" fill="#000"/>
<rect x="1188" y="228" width="1" height="36" fill="#000"/>
<rect x="1186" y="231" width="5" height="30" fill="#000"/>
<rect x="1187" y="232" width="3" height="28" fill="#fff"/>
<rect x="1196" y="221" width="1" height="21" fill="#000"/>
<rect x="1194" y="228" width="5" height="3" fill="#000"/>
<rect x="1195" y="229" width="3" height="1" fill="#fff"/>
<rect x="1204" y="215" width="1" height="25" fill="#000"/>
<rect x="1202" y="229" width="5" height="1" fill="#000"/>
<rect x="1212" y="207" width="1" height="27" fill="#000"/>
<rect x="1210" y="222" width="5" height="9" fill="#000"/>
<rect x="1211" y="223" width="3" height="7" fill="#fff"/>
<rect x="1220" y="216" width="1" height="21" fill="#000"/>
<rect x="1218" y="222" width="5" height="6" fill="#000"/>
<rect x="1228" y="218" width="1" height="4" fill="#000"/>
<rect x="1226" y="218" width="5" height="3" fill="#000"/>
<rect x="1227" y="219" width="3" height="1" fill="#fff"/>
<rect x="1236" y="199" width="1" height="20" fill="#000"/>
<rect x="1234" y="201" width="5" height="17" fill="#000"/>
<rect x="1235" y="202" width="3" height="15" fill="#fff"/>
<rect x="1244" y="198" width="1" height="25" fill="#000"/>
<rect x="1242" y="201" width="5" height="19" fill="#000"/>
<rect x="1252" y="209" width="1" height="18" fill="#000"/>
<rect x="1250" y="212" width="5" height="7" fill="#000"/>
<rect x="1251" y="213" width="3" height="5" fill="#fff"/>
<rect x="1260" y="210" width="1" height="29" fill="#000"/>
<rect x="1258" y="211" width="5" height="14" fill="#000"/>
<rect x="1268" y="211" width="1" height="33" fill="#000"/>
<rect x="1266" y="211" width="5" height="14" fill="#000"/>
<rect x="1267" y="212" width="3" height="12" fill="#fff"/>
<rect x="1276" y="204" width="1" height="5" fill="#000"/>
<rect x="1274" y="205" width="5" height="4" fill="#000"/>
<rect x="1284" y="187" width="1" height="28" fill="#000"/>
<rect x="1282" y="207" width="5" height="3" fill="#000"/>
<rect x="1292" y="173" width="1" height="44" fill="#000"/>
<rect x="1290" y="176" width="5" height="34" fill="#000"/>
<rect x="1291" y="177" width="3" height="32" fill="#fff"/>
<rect x="1300" y="162" width="1" height="23" fill="#000"/>
<rect x="1298" y="176" width="5" height="1" fill="#000"/>
<rect x="1308" y="175" width="1" height="15" fill="#000"/>
<rect x="1306" y="176" width="5" height="7" fill="#000"/>
<rect x="1316" y="177" width="1" height="11" fill="#000"/>
<rect x="1314" y="182" width="5" height="6" fill="#000"/>
<rect x="1324" y="183" width="1" height="4" fill="#000"/>
<rect x="1322" y="183" width="5" height="3" fill="#000"/>
<rect x="1323" y="184" width="3" height="1" fill="#fff"/>
<rect x="1332" y="181" width="1" height="13" fill="#000"/>
<rect x="1330" y="183" width="5" height="1" fill="#000"/>
<rect x="1340" y="169" width="1" height="15" fill="#000"/>
<rect x="1338" y="175" width="5" height="8" fill="#000"/>
<rect x="1339" y="176" width="3" height="6" fill="#fff"/>
<rect x="1348" y="168" width="1" height="19" fill="#000"/>
<rect x="1346" y="172" width="5" height="3" fill="#000"/>
<rect x="1347" y="173" width="3" height="1" fill="#fff"/>
<rect x="1356" y="162" width="1" height="29" fill="#000"/>
<rect x="1354" y="172" width="5" height="14" fill="#000"/>
<rect x="1364" y="183" width="1" height="14" fill="#000"/>
<rect x="1362" y="185" width="5" height="11" fill="#000"/>
<rect x="1372" y="194" width="1" height="6" fill="#000"/>
<rect x="1370" y="195" width="5" height="2" fill="#000"/>
<rect x="1380" y="186" width="1" height="11" fill="#000"/>
<rect x="1378" y="187" width="5" height="9" fill="#000"/>
<rect x="1379" y="188" width="3" height="7" fill="#fff"/>
<rect x="1388" y="183" width="1" height="16" fill="#000"/>
<rect x="1386" y="187" width="5" height="10" fill="#000"/>
<rect x="1396" y="188" width="1" height="15" fill="#000"/>
<rect x="1394" y="191" width="5" height="5" fill="#000"/>
<rect x="1395" y="192" width="3" height="3" fill="#fff"/>
<rect x="1404" y="190" width="1" height="24" fill="#000"/>
<rect x="1402" y="191" width="5" height="3" fill="#000"/>
<rect x="1412" y="191" width="1" height="25" fill="#000"/>
<rect x="1410" y="192" width="5" height="3" fill="#000"/>
<rect x="1420" y="195" width="1" height="5" fill="#000"/>
<rect x="1418" y="196" width="5" height="1" fill="#000"/>
<rect x="1428" y="183" width="1" height="16" fill="#000"/>
<rect x="1426" y="185" width="5" height="12" fill="#000"/>
<rect x="1427" y="186" width="3" height="10" fill="#fff"/>
<rect x="1436" y="176" width="1" height="13" fill="#000"/>
<rect x="1434" y="177" width="5" height="8" fill="#000"/>
<rect x="1435" y="178" width="3" height="6" fill="#fff"/>
</g>
<g fill="#ff0000" shape-rendering="crispEdges">
<polygon points="1401.2,214.2 1403.8,217.4 1458.8,176.3 1456.2,173.1"/>
<polygon points="1468.6,169.2 1466,167.8 1454.6,171.6 1460.6,179.2"/>
</g>
<rect x="1320" y="194" width="146" height="8" fill="#00ff00"/>
<text x="1508.5" y="204.5" font-size="21.2" font-weight="600" fill="#00ff00" textLength="112" lengthAdjust="spacingAndGlyphs" font-family='"Liberation Serif", "Noto Serif CJK SC", serif'>多空转折点</text>
<polygon points="1443.5,22 1453.5,22 1448.5,27" fill="#c0c0c0"/>
</g>
<g shape-rendering="crispEdges" fill="#000">
<rect x="0" y="21" width="1688" height="1"/>
<rect x="1687" y="21" width="1" height="568"/>
<rect x="0" y="588" width="1688" height="1"/>
<rect x="0" y="590" width="1688" height="1"/>
<rect x="1687" y="590" width="1" height="157"/>
<rect x="0" y="746" width="1688" height="1"/>
<rect x="0" y="748" width="1688" height="1"/>
<rect x="1687" y="748" width="1" height="175"/>
<rect x="0" y="922" width="1688" height="1"/>
</g>
<g shape-rendering="crispEdges">
<rect x="1688" y="24" width="2" height="1" fill="#000"/>
<rect x="1688" y="57" width="2" height="1" fill="#000"/>
<rect x="1688" y="90" width="2" height="1" fill="#000"/>
<rect x="1688" y="123" width="2" height="1" fill="#000"/>
<rect x="1688" y="156" width="2" height="1" fill="#000"/>
<rect x="1688" y="189" width="2" height="1" fill="#000"/>
<rect x="1688" y="222" width="2" height="1" fill="#000"/>
<rect x="1688" y="255" width="2" height="1" fill="#000"/>
<rect x="1688" y="288" width="2" height="1" fill="#000"/>
<rect x="1688" y="321" width="2" height="1" fill="#000"/>
<rect x="1688" y="354" width="2" height="1" fill="#000"/>
<rect x="1688" y="387" width="2" height="1" fill="#000"/>
<rect x="1688" y="420" width="2" height="1" fill="#000"/>
<rect x="1688" y="453" width="2" height="1" fill="#000"/>
<rect x="1688" y="486" width="2" height="1" fill="#000"/>
<rect x="1688" y="519" width="2" height="1" fill="#000"/>
<rect x="1688" y="552" width="2" height="1" fill="#000"/>
<rect x="1688" y="585" width="2" height="1" fill="#000"/>
</g>
<text x="1692.5" y="28" font-size="9.9" fill="#000" stroke="#000" stroke-width="0.22" textLength="33.61" lengthAdjust="spacingAndGlyphs" >30076.0</text>
<text x="1692.5" y="61" font-size="9.9" fill="#000" stroke="#000" stroke-width="0.22" textLength="33.61" lengthAdjust="spacingAndGlyphs" >29366.5</text>
<text x="1692.5" y="94" font-size="9.9" fill="#000" stroke="#000" stroke-width="0.22" textLength="33.61" lengthAdjust="spacingAndGlyphs" >28635.5</text>
<text x="1692.5" y="127" font-size="9.9" fill="#000" stroke="#000" stroke-width="0.22" textLength="33.61" lengthAdjust="spacingAndGlyphs" >27904.5</text>
<text x="1692.5" y="160" font-size="9.9" fill="#000" stroke="#000" stroke-width="0.22" textLength="33.61" lengthAdjust="spacingAndGlyphs" >27173.5</text>
<text x="1692.5" y="193" font-size="9.9" fill="#000" stroke="#000" stroke-width="0.22" textLength="33.61" lengthAdjust="spacingAndGlyphs" >26464.0</text>
<text x="1692.5" y="226" font-size="9.9" fill="#000" stroke="#000" stroke-width="0.22" textLength="33.61" lengthAdjust="spacingAndGlyphs" >25733.0</text>
<text x="1692.5" y="259" font-size="9.9" fill="#000" stroke="#000" stroke-width="0.22" textLength="33.61" lengthAdjust="spacingAndGlyphs" >25023.5</text>
<text x="1692.5" y="292" font-size="9.9" fill="#000" stroke="#000" stroke-width="0.22" textLength="33.61" lengthAdjust="spacingAndGlyphs" >24292.5</text>
<text x="1692.5" y="325" font-size="9.9" fill="#000" stroke="#000" stroke-width="0.22" textLength="33.61" lengthAdjust="spacingAndGlyphs" >23583.0</text>
<text x="1692.5" y="358" font-size="9.9" fill="#000" stroke="#000" stroke-width="0.22" textLength="33.61" lengthAdjust="spacingAndGlyphs" >22852.0</text>
<text x="1692.5" y="391" font-size="9.9" fill="#000" stroke="#000" stroke-width="0.22" textLength="33.61" lengthAdjust="spacingAndGlyphs" >22121.0</text>
<text x="1692.5" y="424" font-size="9.9" fill="#000" stroke="#000" stroke-width="0.22" textLength="32.92" lengthAdjust="spacingAndGlyphs" >21411.5</text>
<text x="1692.5" y="457" font-size="9.9" fill="#000" stroke="#000" stroke-width="0.22" textLength="33.61" lengthAdjust="spacingAndGlyphs" >20680.5</text>
<text x="1692.5" y="490" font-size="9.9" fill="#000" stroke="#000" stroke-width="0.22" textLength="33.61" lengthAdjust="spacingAndGlyphs" >19949.5</text>
<text x="1692.5" y="523" font-size="9.9" fill="#000" stroke="#000" stroke-width="0.22" textLength="33.61" lengthAdjust="spacingAndGlyphs" >19240.0</text>
<text x="1692.5" y="556" font-size="9.9" fill="#000" stroke="#000" stroke-width="0.22" textLength="33.61" lengthAdjust="spacingAndGlyphs" >18509.0</text>
<text x="1692.5" y="589" font-size="9.9" fill="#000" stroke="#000" stroke-width="0.22" textLength="33.61" lengthAdjust="spacingAndGlyphs" >17799.5</text>
<rect x="1689" y="122" width="41" height="11" fill="#ff0000" shape-rendering="crispEdges"/>
<text x="1692.5" y="131" font-size="9.9" fill="#fff" stroke="#fff" stroke-width="0.08" textLength="33.61" lengthAdjust="spacingAndGlyphs" >27796.5</text>
<rect x="1689" y="153" width="41" height="11" fill="#ff0000" shape-rendering="crispEdges"/>
<text x="1692.5" y="162" font-size="9.9" fill="#fff" stroke="#fff" stroke-width="0.08" textLength="32.92" lengthAdjust="spacingAndGlyphs" >27118.4</text>
<rect x="1689" y="172" width="41" height="11" fill="#000000" shape-rendering="crispEdges"/>
<text x="1692.5" y="181" font-size="9.9" fill="#fff" stroke="#fff" stroke-width="0.08" textLength="33.61" lengthAdjust="spacingAndGlyphs" >26739.0</text>
<rect x="1689" y="192" width="41" height="11" fill="#32cd32" shape-rendering="crispEdges"/>
<text x="1692.5" y="201" font-size="9.9" fill="#fff" stroke="#fff" stroke-width="0.08" textLength="33.61" lengthAdjust="spacingAndGlyphs" >26265.4</text>
<rect x="1689" y="207" width="41" height="11" fill="#0000ff" shape-rendering="crispEdges"/>
<text x="1692.5" y="216" font-size="9.9" fill="#fff" stroke="#fff" stroke-width="0.08" textLength="33.61" lengthAdjust="spacingAndGlyphs" >25937.3</text>
<rect x="1689" y="232" width="41" height="11" fill="#0000ff" shape-rendering="crispEdges"/>
<text x="1692.5" y="241" font-size="9.9" fill="#fff" stroke="#fff" stroke-width="0.08" textLength="33.61" lengthAdjust="spacingAndGlyphs" >25390.5</text>
<polygon points="0,32 3,28 6,32" fill="#000"/>
<text x="11.3" y="33" font-size="9.9" fill="#000" stroke="#000" stroke-width="0.22" textLength="48.47" lengthAdjust="spacingAndGlyphs" >DJ30-,Daily</text>
<text x="65.6" y="33" font-size="9.9" fill="#000" stroke="#000" stroke-width="0.22" textLength="141.44" lengthAdjust="spacingAndGlyphs" >26561.0 26746.0 26437.0 26739.0</text>
<g clip-path="url(#cmacd)">
<g shape-rendering="crispEdges" fill="#c0c0c0">
<rect x="4" y="633" width="1" height="5"/>
<rect x="12" y="632" width="1" height="6"/>
<rect x="20" y="630" width="1" height="8"/>
<rect x="28" y="631" width="1" height="7"/>
<rect x="36" y="631" width="1" height="7"/>
<rect x="44" y="630" width="1" height="8"/>
<rect x="52" y="631" width="1" height="7"/>
<rect x="60" y="630" width="1" height="8"/>
<rect x="68" y="629" width="1" height="9"/>
<rect x="76" y="629" width="1" height="9"/>
<rect x="84" y="627" width="1" height="11"/>
<rect x="92" y="628" width="1" height="10"/>
<rect x="100" y="628" width="1" height="10"/>
<rect x="108" y="628" width="1" height="10"/>
<rect x="116" y="628" width="1" height="10"/>
<rect x="124" y="630" width="1" height="8"/>
<rect x="132" y="632" width="1" height="6"/>
<rect x="140" y="634" width="1" height="4"/>
<rect x="148" y="635" width="1" height="3"/>
<rect x="156" y="636" width="1" height="2"/>
<rect x="164" y="636" width="1" height="2"/>
<rect x="180" y="637" width="1" height="2"/>
<rect x="188" y="637" width="1" height="4"/>
<rect x="196" y="637" width="1" height="4"/>
<rect x="220" y="636" width="1" height="2"/>
<rect x="228" y="636" width="1" height="2"/>
<rect x="236" y="634" width="1" height="4"/>
<rect x="244" y="634" width="1" height="4"/>
<rect x="252" y="632" width="1" height="6"/>
<rect x="260" y="631" width="1" height="7"/>
<rect x="268" y="631" width="1" height="7"/>
<rect x="276" y="630" width="1" height="8"/>
<rect x="284" y="630" width="1" height="8"/>
<rect x="292" y="631" width="1" height="7"/>
<rect x="300" y="631" width="1" height="7"/>
<rect x="308" y="632" width="1" height="6"/>
<rect x="316" y="633" width="1" height="5"/>
<rect x="324" y="636" width="1" height="2"/>
<rect x="340" y="637" width="1" height="8"/>
<rect x="348" y="637" width="1" height="14"/>
<rect x="356" y="637" width="1" height="23"/>
<rect x="364" y="637" width="1" height="30"/>
<rect x="372" y="637" width="1" height="37"/>
<rect x="380" y="637" width="1" height="36"/>
<rect x="388" y="637" width="1" height="38"/>
<rect x="396" y="637" width="1" height="35"/>
<rect x="404" y="637" width="1" height="35"/>
<rect x="412" y="637" width="1" height="36"/>
<rect x="420" y="637" width="1" height="41"/>
<rect x="428" y="637" width="1" height="45"/>
<rect x="436" y="637" width="1" height="47"/>
<rect x="444" y="637" width="1" height="52"/>
<rect x="452" y="637" width="1" height="64"/>
<rect x="460" y="637" width="1" height="66"/>
<rect x="468" y="637" width="1" height="70"/>
<rect x="476" y="637" width="1" height="77"/>
<rect x="484" y="637" width="1" height="83"/>
<rect x="492" y="637" width="1" height="87"/>
<rect x="500" y="637" width="1" height="91"/>
<rect x="508" y="637" width="1" height="95"/>
<rect x="516" y="637" width="1" height="100"/>
<rect x="524" y="637" width="1" height="101"/>
<rect x="532" y="637" width="1" height="95"/>
<rect x="540" y="637" width="1" height="87"/>
<rect x="548" y="637" width="1" height="74"/>
<rect x="556" y="637" width="1" height="67"/>
<rect x="564" y="637" width="1" height="62"/>
<rect x="572" y="637" width="1" height="54"/>
<rect x="580" y="637" width="1" height="49"/>
<rect x="588" y="637" width="1" height="47"/>
<rect x="596" y="637" width="1" height="44"/>
<rect x="604" y="637" width="1" height="42"/>
<rect x="612" y="637" width="1" height="39"/>
<rect x="620" y="637" width="1" height="31"/>
<rect x="628" y="637" width="1" height="25"/>
<rect x="636" y="637" width="1" height="17"/>
<rect x="644" y="637" width="1" height="9"/>
<rect x="652" y="637" width="1" height="4"/>
<rect x="660" y="636" width="1" height="2"/>
<rect x="668" y="632" width="1" height="6"/>
<rect x="676" y="630" width="1" height="8"/>
<rect x="684" y="626" width="1" height="12"/>
<rect x="692" y="623" width="1" height="15"/>
<rect x="700" y="621" width="1" height="17"/>
<rect x="708" y="621" width="1" height="17"/>
<rect x="716" y="624" width="1" height="14"/>
<rect x="724" y="624" width="1" height="14"/>
<rect x="732" y="625" width="1" height="13"/>
<rect x="740" y="625" width="1" height="13"/>
<rect x="748" y="625" width="1" height="13"/>
<rect x="756" y="624" width="1" height="14"/>
<rect x="764" y="623" width="1" height="15"/>
<rect x="772" y="620" width="1" height="18"/>
<rect x="780" y="620" width="1" height="18"/>
<rect x="788" y="622" width="1" height="16"/>
<rect x="796" y="625" width="1" height="13"/>
<rect x="804" y="626" width="1" height="12"/>
<rect x="812" y="626" width="1" height="12"/>
<rect x="820" y="628" width="1" height="10"/>
<rect x="828" y="627" width="1" height="11"/>
<rect x="836" y="626" width="1" height="12"/>
<rect x="844" y="625" width="1" height="13"/>
<rect x="852" y="625" width="1" height="13"/>
<rect x="860" y="628" width="1" height="10"/>
<rect x="868" y="631" width="1" height="7"/>
<rect x="876" y="631" width="1" height="7"/>
<rect x="884" y="633" width="1" height="5"/>
<rect x="892" y="633" width="1" height="5"/>
<rect x="900" y="630" width="1" height="8"/>
<rect x="908" y="629" width="1" height="9"/>
<rect x="916" y="628" width="1" height="10"/>
<rect x="924" y="627" width="1" height="11"/>
<rect x="932" y="626" width="1" height="12"/>
<rect x="940" y="625" width="1" height="13"/>
<rect x="948" y="625" width="1" height="13"/>
<rect x="956" y="623" width="1" height="15"/>
<rect x="964" y="619" width="1" height="19"/>
<rect x="972" y="618" width="1" height="20"/>
<rect x="980" y="617" width="1" height="21"/>
<rect x="988" y="616" width="1" height="22"/>
<rect x="996" y="616" width="1" height="22"/>
<rect x="1004" y="615" width="1" height="23"/>
<rect x="1012" y="612" width="1" height="26"/>
<rect x="1020" y="610" width="1" height="28"/>
<rect x="1028" y="607" width="1" height="31"/>
<rect x="1036" y="603" width="1" height="35"/>
<rect x="1044" y="600" width="1" height="38"/>
<rect x="1052" y="599" width="1" height="39"/>
<rect x="1060" y="600" width="1" height="38"/>
<rect x="1068" y="607" width="1" height="31"/>
<rect x="1076" y="611" width="1" height="27"/>
<rect x="1084" y="617" width="1" height="21"/>
<rect x="1092" y="618" width="1" height="20"/>
<rect x="1100" y="618" width="1" height="20"/>
<rect x="1108" y="620" width="1" height="18"/>
<rect x="1116" y="621" width="1" height="17"/>
<rect x="1124" y="624" width="1" height="14"/>
<rect x="1132" y="627" width="1" height="11"/>
<rect x="1140" y="627" width="1" height="11"/>
<rect x="1148" y="627" width="1" height="11"/>
<rect x="1156" y="630" width="1" height="8"/>
<rect x="1164" y="632" width="1" height="6"/>
<rect x="1172" y="635" width="1" height="3"/>
<rect x="1180" y="637" width="1" height="2"/>
<rect x="1188" y="637" width="1" height="2"/>
<rect x="1220" y="636" width="1" height="2"/>
<rect x="1228" y="636" width="1" height="2"/>
<rect x="1236" y="634" width="1" height="4"/>
<rect x="1244" y="634" width="1" height="4"/>
<rect x="1252" y="633" width="1" height="5"/>
<rect x="1260" y="634" width="1" height="4"/>
<rect x="1268" y="633" width="1" height="5"/>
<rect x="1276" y="632" width="1" height="6"/>
<rect x="1284" y="632" width="1" height="6"/>
<rect x="1292" y="629" width="1" height="9"/>
<rect x="1300" y="627" width="1" height="11"/>
<rect x="1308" y="626" width="1" height="12"/>
<rect x="1316" y="626" width="1" height="12"/>
<rect x="1324" y="625" width="1" height="13"/>
<rect x="1332" y="625" width="1" height="13"/>
<rect x="1340" y="625" width="1" height="13"/>
<rect x="1348" y="624" width="1" height="14"/>
<rect x="1356" y="625" width="1" height="13"/>
<rect x="1364" y="626" width="1" height="12"/>
<rect x="1372" y="627" width="1" height="11"/>
<rect x="1380" y="628" width="1" height="10"/>
<rect x="1388" y="629" width="1" height="9"/>
<rect x="1396" y="630" width="1" height="8"/>
<rect x="1404" y="630" width="1" height="8"/>
<rect x="1412" y="631" width="1" height="7"/>
<rect x="1420" y="632" width="1" height="6"/>
<rect x="1428" y="632" width="1" height="6"/>
<rect x="1436" y="631" width="1" height="7"/>
</g>
<polyline points="-4.5,629.30 4.5,629.30 12.5,630.40 20.5,630.40 28.5,630.40 36.5,630.40 44.5,630.40 52.5,630.40 60.5,630.40 68.5,630.40 76.5,629.30 84.5,629.30 92.5,628.30 100.5,628.30 108.5,628.30 116.5,627.50 124.5,627.50 132.5,628.50 140.5,628.90 148.5,629.30 156.5,630.40 164.5,631.15 172.5,632.40 180.5,633.77 188.5,635.13 196.5,636.40 204.5,637.40 212.5,637.40 220.5,637.40 228.5,637.40 236.5,637.40 244.5,636.25 252.5,635.50 260.5,634.50 268.5,633.21 276.5,632.50 284.5,632.50 292.5,631.60 300.5,631.60 308.5,630.60 316.5,630.60 324.5,631.60 332.5,632.50 340.5,633.75 348.5,635.20 356.5,638.51 364.5,642.56 372.5,647.36 380.5,651.93 388.5,656.59 396.5,660.69 404.5,664.36 412.5,667.50 420.5,670.48 428.5,672.95 436.5,674.86 444.5,676.54 452.5,679.69 460.5,682.76 468.5,686.60 476.5,691.21 484.5,696.37 492.5,701.47 500.5,706.56 508.5,711.91 516.5,717.33 524.5,721.47 532.5,724.74 540.5,726.61 548.5,726.33 556.5,724.62 564.5,721.94 572.5,717.86 580.5,712.78 588.5,706.86 596.5,700.48 604.5,694.59 612.5,689.27 620.5,684.45 628.5,679.72 636.5,674.62 644.5,669.62 652.5,664.61 660.5,659.41 668.5,654.04 676.5,648.75 684.5,643.32 692.5,638.41 700.5,633.99 708.5,630.50 716.5,628.12 724.5,626.35 732.5,625.14 740.5,624.41 748.5,623.83 756.5,623.58 764.5,623.57 772.5,623.47 780.5,623.35 788.5,623.17 796.5,623.21 804.5,623.24 812.5,623.35 820.5,623.62 828.5,624.01 836.5,624.38 844.5,624.89 852.5,625.41 860.5,626.03 868.5,626.66 876.5,627.29 884.5,628.03 892.5,628.63 900.5,628.95 908.5,629.33 916.5,629.68 924.5,629.89 932.5,629.72 940.5,629.16 948.5,628.40 956.5,627.32 964.5,625.81 972.5,624.46 980.5,623.05 988.5,621.79 996.5,620.64 1004.5,619.39 1012.5,617.89 1020.5,616.32 1028.5,614.51 1036.5,612.72 1044.5,610.72 1052.5,608.73 1060.5,606.92 1068.5,605.84 1076.5,605.47 1084.5,605.97 1092.5,606.79 1100.5,608.09 1108.5,609.98 1116.5,612.35 1124.5,615.20 1132.5,618.17 1140.5,620.42 1148.5,622.21 1156.5,623.75 1164.5,625.31 1172.5,627.17 1180.5,629.14 1188.5,630.97 1196.5,632.45 1204.5,633.59 1212.5,634.65 1220.5,635.64 1228.5,636.21 1236.5,636.41 1244.5,636.24 1252.5,635.68 1260.5,635.21 1268.5,634.71 1276.5,634.18 1284.5,633.69 1292.5,632.90 1300.5,631.97 1308.5,631.15 1316.5,630.29 1324.5,629.45 1332.5,628.53 1340.5,627.59 1348.5,626.65 1356.5,625.82 1364.5,625.47 1372.5,625.50 1380.5,625.69 1388.5,626.04 1396.5,626.51 1404.5,627.09 1412.5,627.82 1420.5,628.72 1428.5,629.50 1436.5,630.04" fill="none" stroke="#ff0000" stroke-width="1" shape-rendering="crispEdges" stroke-dasharray="3,3"/>
</g>
<text x="0.3" y="603" font-size="9.9" fill="#000" stroke="#000" stroke-width="0.22" textLength="128.15" lengthAdjust="spacingAndGlyphs" >MACD(12,26,9) 136.79 158.03</text>
<g shape-rendering="crispEdges" fill="#000"><rect x="1688" y="592" width="2" height="1"/><rect x="1688" y="637" width="2" height="1"/><rect x="1688" y="745" width="2" height="1"/></g>
<text x="1692.5" y="601" font-size="9.9" fill="#000" stroke="#000" stroke-width="0.22" textLength="33.61" lengthAdjust="spacingAndGlyphs" >1024.52</text>
<text x="1692.5" y="641" font-size="9.9" fill="#000" stroke="#000" stroke-width="0.22" textLength="18.10" lengthAdjust="spacingAndGlyphs" >0.00</text>
<text x="1690.5" y="742" font-size="9.9" fill="#000" stroke="#000" stroke-width="0.22" textLength="36.71" lengthAdjust="spacingAndGlyphs" >-2433.25</text>
<g shape-rendering="crispEdges" fill="none" stroke="#c0c0c0" stroke-dasharray="3,3">
<line x1="3" y1="784.5" x2="1687" y2="784.5"/>
<line x1="3" y1="835.5" x2="1687" y2="835.5"/>
<line x1="3" y1="896.5" x2="1687" y2="896.5"/>
</g>
<g clip-path="url(#crsi)">
<polyline points="-4.5,821.00 4.5,841.40 12.5,819.33 20.5,814.40 28.5,822.40 36.5,821.49 44.5,817.35 52.5,821.39 60.5,813.31 68.5,806.40 76.5,807.35 84.5,806.58 92.5,809.65 100.5,815.17 108.5,820.69 116.5,817.45 124.5,830.83 132.5,844.30 140.5,849.00 148.5,841.40 156.5,840.32 164.5,835.90 172.5,856.34 180.5,855.16 188.5,847.07 196.5,832.43 204.5,816.56 212.5,814.14 220.5,826.29 228.5,831.36 236.5,821.18 244.5,822.07 252.5,815.77 260.5,817.73 268.5,817.73 276.5,815.61 284.5,821.24 292.5,824.57 300.5,820.39 308.5,836.83 316.5,839.52 324.5,852.21 332.5,867.45 340.5,880.47 348.5,884.97 356.5,895.38 364.5,896.07 372.5,898.67 380.5,857.02 388.5,866.14 396.5,846.95 404.5,854.90 412.5,858.72 420.5,868.09 428.5,870.81 436.5,866.34 444.5,873.98 452.5,887.18 460.5,860.12 468.5,866.05 476.5,871.93 484.5,873.73 492.5,873.73 500.5,876.51 508.5,879.07 516.5,882.46 524.5,875.44 532.5,855.88 540.5,850.27 548.5,838.31 556.5,845.79 564.5,847.97 572.5,838.83 580.5,843.99 588.5,847.76 596.5,845.57 604.5,847.37 612.5,844.32 620.5,831.74 628.5,832.94 636.5,825.55 644.5,823.32 652.5,827.47 660.5,826.70 668.5,822.59 676.5,830.14 684.5,821.37 692.5,821.89 700.5,824.09 708.5,829.28 716.5,835.77 724.5,832.29 732.5,832.85 740.5,828.15 748.5,829.40 756.5,823.82 764.5,823.29 772.5,817.07 780.5,826.50 788.5,832.81 796.5,837.85 804.5,832.21 812.5,829.76 820.5,834.99 828.5,828.28 836.5,823.81 844.5,822.32 852.5,828.39 860.5,839.57 868.5,842.22 876.5,835.55 884.5,837.38 892.5,833.93 900.5,820.60 908.5,827.46 916.5,823.36 924.5,823.79 932.5,824.25 940.5,823.15 948.5,820.51 956.5,815.09 964.5,805.58 972.5,814.31 980.5,811.81 988.5,817.79 996.5,816.38 1004.5,809.07 1012.5,802.55 1020.5,804.97 1028.5,795.53 1036.5,793.62 1044.5,790.94 1052.5,797.26 1060.5,813.08 1068.5,838.69 1076.5,835.59 1084.5,840.69 1092.5,827.81 1100.5,825.16 1108.5,831.77 1116.5,828.56 1124.5,837.49 1132.5,838.86 1140.5,828.86 1148.5,831.14 1156.5,842.00 1164.5,837.28 1172.5,845.99 1180.5,847.52 1188.5,835.64 1196.5,834.60 1204.5,834.98 1212.5,832.28 1220.5,834.83 1228.5,830.71 1236.5,824.12 1244.5,832.86 1252.5,829.63 1260.5,835.52 1268.5,829.62 1276.5,828.78 1284.5,829.31 1292.5,815.76 1300.5,816.33 1308.5,819.87 1316.5,822.86 1324.5,820.63 1332.5,821.29 1340.5,817.04 1348.5,815.63 1356.5,825.75 1364.5,832.32 1372.5,832.97 1380.5,826.92 1388.5,833.83 1396.5,830.06 1404.5,832.23 1412.5,832.99 1420.5,834.57 1428.5,825.84 1436.5,820.61" fill="none" stroke="#1e90ff" stroke-width="1" shape-rendering="crispEdges" />
</g>
<text x="0.3" y="760" font-size="9.9" fill="#000" stroke="#000" stroke-width="0.22" textLength="68.24" lengthAdjust="spacingAndGlyphs" >RSI(14) 59.3393</text>
<g shape-rendering="crispEdges" fill="#000"><rect x="1688" y="750" width="2" height="1"/><rect x="1688" y="784" width="2" height="1"/><rect x="1688" y="835" width="2" height="1"/><rect x="1688" y="896" width="2" height="1"/><rect x="1688" y="921" width="2" height="1"/></g>
<text x="1692.5" y="759" font-size="9.9" fill="#000" stroke="#000" stroke-width="0.22" textLength="15.52" lengthAdjust="spacingAndGlyphs" >100</text>
<text x="1692.5" y="788" font-size="9.9" fill="#000" stroke="#000" stroke-width="0.22" textLength="10.34" lengthAdjust="spacingAndGlyphs" >80</text>
<text x="1692.5" y="839" font-size="9.9" fill="#000" stroke="#000" stroke-width="0.22" textLength="10.34" lengthAdjust="spacingAndGlyphs" >50</text>
<text x="1692.5" y="900" font-size="9.9" fill="#000" stroke="#000" stroke-width="0.22" textLength="10.34" lengthAdjust="spacingAndGlyphs" >15</text>
<text x="1692.5" y="919" font-size="9.9" fill="#000" stroke="#000" stroke-width="0.22" textLength="5.17" lengthAdjust="spacingAndGlyphs" >0</text>
<g shape-rendering="crispEdges" fill="#000">
<rect x="60" y="923" width="1" height="3"/>
<rect x="124" y="923" width="1" height="3"/>
<rect x="188" y="923" width="1" height="3"/>
<rect x="252" y="923" width="1" height="3"/>
<rect x="316" y="923" width="1" height="3"/>
<rect x="380" y="923" width="1" height="3"/>
<rect x="444" y="923" width="1" height="3"/>
<rect x="508" y="923" width="1" height="3"/>
<rect x="572" y="923" width="1" height="3"/>
<rect x="636" y="923" width="1" height="3"/>
<rect x="700" y="923" width="1" height="3"/>
<rect x="764" y="923" width="1" height="3"/>
<rect x="828" y="923" width="1" height="3"/>
<rect x="892" y="923" width="1" height="3"/>
<rect x="956" y="923" width="1" height="3"/>
<rect x="1020" y="923" width="1" height="3"/>
<rect x="1084" y="923" width="1" height="3"/>
<rect x="1148" y="923" width="1" height="3"/>
<rect x="1212" y="923" width="1" height="3"/>
<rect x="1276" y="923" width="1" height="3"/>
<rect x="1340" y="923" width="1" height="3"/>
<rect x="1404" y="923" width="1" height="3"/>
</g>
<text x="-5.6" y="935" font-size="9.9" fill="#000" stroke="#000" stroke-width="0.22" textLength="44.78" lengthAdjust="spacingAndGlyphs" >6 Jan 2020</text>
<text x="59.6" y="935" font-size="9.9" fill="#000" stroke="#000" stroke-width="0.22" textLength="49.81" lengthAdjust="spacingAndGlyphs" >15 Jan 2020</text>
<text x="123.6" y="935" font-size="9.9" fill="#000" stroke="#000" stroke-width="0.22" textLength="49.81" lengthAdjust="spacingAndGlyphs" >24 Jan 2020</text>
<text x="187.6" y="935" font-size="9.9" fill="#000" stroke="#000" stroke-width="0.22" textLength="45.78" lengthAdjust="spacingAndGlyphs" >3 Feb 2020</text>
<text x="251.6" y="935" font-size="9.9" fill="#000" stroke="#000" stroke-width="0.22" textLength="50.82" lengthAdjust="spacingAndGlyphs" >12 Feb 2020</text>
<text x="315.6" y="935" font-size="9.9" fill="#000" stroke="#000" stroke-width="0.22" textLength="50.82" lengthAdjust="spacingAndGlyphs" >21 Feb 2020</text>
<text x="379.6" y="935" font-size="9.9" fill="#000" stroke="#000" stroke-width="0.22" textLength="45.78" lengthAdjust="spacingAndGlyphs" >2 Mar 2020</text>
<text x="443.6" y="935" font-size="9.9" fill="#000" stroke="#000" stroke-width="0.22" textLength="50.14" lengthAdjust="spacingAndGlyphs" >11 Mar 2020</text>
<text x="507.6" y="935" font-size="9.9" fill="#000" stroke="#000" stroke-width="0.22" textLength="50.81" lengthAdjust="spacingAndGlyphs" >20 Mar 2020</text>
<text x="571.6" y="935" font-size="9.9" fill="#000" stroke="#000" stroke-width="0.22" textLength="50.81" lengthAdjust="spacingAndGlyphs" >30 Mar 2020</text>
<text x="635.6" y="935" font-size="9.9" fill="#000" stroke="#000" stroke-width="0.22" textLength="43.78" lengthAdjust="spacingAndGlyphs" >8 Apr 2020</text>
<text x="699.6" y="935" font-size="9.9" fill="#000" stroke="#000" stroke-width="0.22" textLength="48.81" lengthAdjust="spacingAndGlyphs" >19 Apr 2020</text>
<text x="763.6" y="935" font-size="9.9" fill="#000" stroke="#000" stroke-width="0.22" textLength="48.81" lengthAdjust="spacingAndGlyphs" >28 Apr 2020</text>
<text x="827.6" y="935" font-size="9.9" fill="#000" stroke="#000" stroke-width="0.22" textLength="47.29" lengthAdjust="spacingAndGlyphs" >7 May 2020</text>
<text x="891.6" y="935" font-size="9.9" fill="#000" stroke="#000" stroke-width="0.22" textLength="52.32" lengthAdjust="spacingAndGlyphs" >17 May 2020</text>
<text x="955.6" y="935" font-size="9.9" fill="#000" stroke="#000" stroke-width="0.22" textLength="52.32" lengthAdjust="spacingAndGlyphs" >26 May 2020</text>
<text x="1019.6" y="935" font-size="9.9" fill="#000" stroke="#000" stroke-width="0.22" textLength="44.78" lengthAdjust="spacingAndGlyphs" >4 Jun 2020</text>
<text x="1083.6" y="935" font-size="9.9" fill="#000" stroke="#000" stroke-width="0.22" textLength="49.81" lengthAdjust="spacingAndGlyphs" >14 Jun 2020</text>
<text x="1147.6" y="935" font-size="9.9" fill="#000" stroke="#000" stroke-width="0.22" textLength="49.81" lengthAdjust="spacingAndGlyphs" >23 Jun 2020</text>
<text x="1211.6" y="935" font-size="9.9" fill="#000" stroke="#000" stroke-width="0.22" textLength="41.76" lengthAdjust="spacingAndGlyphs" >2 Jul 2020</text>
<text x="1275.6" y="935" font-size="9.9" fill="#000" stroke="#000" stroke-width="0.22" textLength="46.79" lengthAdjust="spacingAndGlyphs" >12 Jul 2020</text>
<text x="1339.6" y="935" font-size="9.9" fill="#000" stroke="#000" stroke-width="0.22" textLength="46.79" lengthAdjust="spacingAndGlyphs" >21 Jul 2020</text>
<text x="1403.6" y="935" font-size="9.9" fill="#000" stroke="#000" stroke-width="0.22" textLength="46.79" lengthAdjust="spacingAndGlyphs" >30 Jul 2020</text>
<g id="panel">
<rect x="0" y="38" width="220" height="69" fill="#ffffff"/>
<g shape-rendering="crispEdges">
<path d="M0,41 H51 V65 H108 V105 H0 Z" fill="url(#gpanel)"/>
<rect x="0" y="41" width="51" height="1" fill="#0a0aa8"/>
<rect x="50" y="41" width="1" height="25" fill="#0a0aa8"/>
<rect x="50" y="65" width="58" height="1" fill="#0a0aa8"/>
<rect x="107" y="65" width="1" height="40" fill="#0a0aa8"/>
<rect x="0" y="104" width="108" height="1" fill="#0000a0"/>
<rect x="3" y="64" width="44" height="1" fill="#1a1a90"/>
<rect x="3" y="65" width="44" height="1" fill="#7a7aff"/>
<path d="M166,41 H218 V105 H110 V65 H166 Z" fill="url(#gpanel)"/>
<rect x="166" y="41" width="52" height="1" fill="#0a0aa8"/>
<rect x="166" y="41" width="1" height="25" fill="#0a0aa8"/>
<rect x="110" y="65" width="57" height="1" fill="#0a0aa8"/>
<rect x="110" y="65" width="1" height="40" fill="#0a0aa8"/>
<rect x="217" y="41" width="1" height="64" fill="#0a0aa8"/>
<rect x="110" y="104" width="108" height="1" fill="#0000a0"/>
<rect x="170" y="64" width="44" height="1" fill="#1a1a90"/>
<rect x="170" y="65" width="44" height="1" fill="#7a7aff"/>
<rect x="53" y="41" width="111" height="22" fill="#a8a8a8"/>
<rect x="54" y="42" width="109" height="20" fill="#ffffff"/>
<rect x="55" y="43" width="18" height="18" fill="url(#gbtn)"/>
<rect x="74" y="42" width="1" height="20" fill="#a8a8a8"/>
<rect x="142" y="42" width="1" height="20" fill="#a8a8a8"/>
<rect x="144" y="43" width="18" height="18" fill="url(#gbtn)"/>
</g>
<polygon points="60.5,50 66.5,50 63.5,53" fill="#4a64c8"/>
<polygon points="149.5,53 155.5,53 152.5,50" fill="#4a64c8"/>
<text x="138.8" y="56" font-size="12.2" fill="#000" text-anchor="end">1.00</text>
<text x="11.3" y="57" font-size="12.1" fill="#fff" textLength="26" lengthAdjust="spacingAndGlyphs">SELL</text>
<text x="179.5" y="57" font-size="12.1" fill="#fff" textLength="23.8" lengthAdjust="spacingAndGlyphs">BUY</text>
<text x="14.5" y="95.6" font-size="12.3" font-weight="bold" fill="#fff">26737</text>
<rect x="54.5" y="92.5" width="3.6" height="3.2" rx="1" fill="#fff"/>
<text x="61.5" y="95.6" font-size="32.5" fill="#fff" textLength="16" lengthAdjust="spacingAndGlyphs">5</text>
<text x="125" y="95.6" font-size="12.3" font-weight="bold" fill="#fff">26746</text>
<rect x="165.5" y="92.5" width="3.6" height="3.2" rx="1" fill="#fff"/>
<text x="172.3" y="95.6" font-size="32.5" fill="#fff" textLength="16" lengthAdjust="spacingAndGlyphs">5</text>
</g>
<g id="tbicons"><rect x="-4.5" y="-3.5" width="14" height="14" fill="#fff" stroke="#3c7fd0"/><rect x="2" y="0" width="7" height="1" fill="#a9c8f0"/><rect x="2" y="3" width="7" height="1" fill="#a9c8f0"/><rect x="2" y="6" width="7" height="1" fill="#a9c8f0"/><rect x="0" y="1" width="1" height="1" fill="#e02020"/><rect x="0" y="4" width="1" height="1" fill="#202020"/><rect x="0" y="7" width="1" height="1" fill="#e02020"/><rect x="23.5" y="-3.5" width="11" height="14" fill="#fff" stroke="#a09880"/><rect x="27" y="-2" width="6" height="7" fill="#8a9aa8"/><line x1="35" y1="10" x2="39.5" y2="14.3" stroke="#c9a018" stroke-width="2.4"/><circle cx="31.5" cy="6" r="5" fill="#dcedf9" fill-opacity="0.85" stroke="#5d97d6" stroke-width="1.2"/><rect x="48" y="0" width="1" height="15" fill="#a0a0a0"/><rect x="58.5" y="-3.5" width="11" height="14" fill="#fff" stroke="#777"/><rect x="60" y="1" width="7" height="1" fill="#888"/><rect x="60" y="4" width="5" height="1" fill="#888"/><path d="M65.5,3.5 h4 v4 h4 v4 h-4 v4 h-4 v-4 h-4 v-4 h4 z" fill="#2fd82f" stroke="#1a9a1a" stroke-width="1"/><text x="77" y="8" font-size="12.2" fill="#000" font-family='"Liberation Sans", "Noto Sans CJK SC", sans-serif'>新订单</text><polygon points="125,7 132,0 141,6 134,13" fill="#e9b52c" stroke="#a87a10" stroke-width="1"/><polygon points="127,7 132,2 139,6 134,11" fill="#f7d565"/><rect x="157" y="-3" width="9" height="10" fill="#2c74d8"/><rect x="159" y="-1" width="5" height="5" fill="#cfe6ff"/><g fill="#8aa0c0" stroke="#8aa0c0" stroke-width="2"><circle cx="156.5" cy="10" r="2.5"/><circle cx="161" cy="8.3" r="3.4"/><circle cx="165.3" cy="9.8" r="2.8"/><rect x="156.5" y="9.5" width="9" height="3"/></g><g fill="#eef3fa"><circle cx="156.5" cy="10" r="2.5"/><circle cx="161" cy="8.3" r="3.4"/><circle cx="165.3" cy="9.8" r="2.8"/><rect x="156.5" y="9.5" width="9" height="3"/></g><circle cx="189" cy="4" r="7" fill="none" stroke="#9fc3ee" stroke-width="1"/><circle cx="189" cy="4" r="4.5" fill="none" stroke="#5d97d6" stroke-width="1"/><circle cx="189" cy="4" r="1.8" fill="#2a66c6"/><path d="M189,5 v7 M189,12 a7,7 0 0 0 6,-5" fill="none" stroke="#38a838" stroke-width="1.3"/><ellipse cx="215" cy="1" rx="7" ry="4" fill="#5aa0e0"/><path d="M208,3 L216,13 L222,5 Z" fill="#f2d04a"/><circle cx="220" cy="8.5" r="4.5" fill="#d42020"/><rect x="218.5" y="7" width="3" height="3" fill="#fff"/><text x="230" y="8" font-size="12.2" fill="#000" font-family='"Liberation Sans", "Noto Sans CJK SC", sans-serif'>自动交易</text><rect x="284" y="0" width="1" height="15" fill="#a0a0a0"/><rect x="288" y="1" width="3" height="1" fill="#b0b0b0"/><rect x="288" y="3" width="3" height="1" fill="#b0b0b0"/><rect x="288" y="5" width="3" height="1" fill="#b0b0b0"/><rect x="288" y="7" width="3" height="1" fill="#b0b0b0"/><rect x="288" y="9" width="3" height="1" fill="#b0b0b0"/><rect x="288" y="11" width="3" height="1" fill="#b0b0b0"/><rect x="288" y="13" width="3" height="1" fill="#b0b0b0"/><rect x="303" y="0" width="1" height="13" fill="#5a5a5a"/><rect x="300" y="11" width="13" height="1" fill="#5a5a5a"/><polygon points="312,9.5 312,13.5 315,11.5" fill="#5a5a5a"/><rect x="307" y="1" width="1" height="7" fill="#2a9a2a"/><rect x="308" y="1" width="2" height="1" fill="#2a9a2a"/><rect x="305" y="7" width="2" height="1" fill="#2a9a2a"/><rect x="322" y="0" width="25" height="16" fill="#f7f7f7"/><rect x="322" y="0" width="1" height="16" fill="#a0a0a0"/><rect x="331" y="0" width="1" height="13" fill="#5a5a5a"/><rect x="328" y="11" width="13" height="1" fill="#5a5a5a"/><polygon points="340,9.5 340,13.5 343,11.5" fill="#5a5a5a"/><rect x="334" y="-2" width="4" height="9" fill="#2bd02b" stroke="#168a16" stroke-width="1"/><rect x="336" y="7" width="1" height="2" fill="#168a16"/><rect x="359" y="0" width="1" height="13" fill="#5a5a5a"/><rect x="356" y="11" width="13" height="1" fill="#5a5a5a"/><polygon points="368,9.5 368,13.5 371,11.5" fill="#5a5a5a"/><path d="M357,8 C360,4 363,1 366,3 L369,6" fill="none" stroke="#2a9a2a" stroke-width="1.2"/><rect x="379" y="0" width="1" height="15" fill="#a0a0a0"/><circle cx="394" cy="3" r="5" fill="#d6eaf8" stroke="#3f87d8" stroke-width="1.3"/><rect x="391" y="2" width="6" height="2" fill="#3f87d8"/><rect x="393" y="0" width="2" height="6" fill="#3f87d8"/><line x1="398" y1="7.5" x2="403" y2="12.5" stroke="#c9a018" stroke-width="2.4"/><circle cx="422" cy="3" r="5" fill="#d6eaf8" stroke="#3f87d8" stroke-width="1.3"/><rect x="419" y="2" width="6" height="2" fill="#3f87d8"/><line x1="426" y1="7.5" x2="431" y2="12.5" stroke="#c9a018" stroke-width="2.4"/><rect x="444" y="-2" width="7" height="6" fill="#48b848"/><rect x="452" y="-2" width="7" height="6" fill="#3a78d8"/><rect x="444" y="5" width="7" height="7" fill="#3a78d8"/><rect x="452" y="5" width="7" height="7" fill="#48b848"/><rect x="445" y="7" width="5" height="1" fill="#fff"/><rect x="453" y="7" width="5" height="1" fill="#fff"/><rect x="445" y="1" width="5" height="1" fill="#fff"/><rect x="453" y="1" width="5" height="1" fill="#fff"/><rect x="469" y="0" width="1" height="15" fill="#a0a0a0"/><rect x="474" y="0" width="25" height="16" fill="#f7f7f7"/><rect x="474" y="0" width="1" height="16" fill="#a0a0a0"/><rect x="483" y="0" width="1" height="13" fill="#5a5a5a"/><rect x="480" y="11" width="13" height="1" fill="#5a5a5a"/><polygon points="492,9.5 492,13.5 495,11.5" fill="#5a5a5a"/><polygon points="487,1 487,7 491,4" fill="#2fc02f"/><rect x="502" y="0" width="25" height="16" fill="#f7f7f7"/><rect x="502" y="0" width="1" height="16" fill="#a0a0a0"/><rect x="511" y="0" width="1" height="13" fill="#5a5a5a"/><rect x="508" y="11" width="13" height="1" fill="#5a5a5a"/><polygon points="520,9.5 520,13.5 523,11.5" fill="#5a5a5a"/><rect x="516" y="-1" width="1" height="10" fill="#2060d0"/><polygon points="518,4 522,1 522,7" fill="#e05010"/><rect x="520" y="3.5" width="3" height="1" fill="#e05010"/><rect x="531" y="0" width="1" height="15" fill="#a0a0a0"/><rect x="541.5" y="-3.5" width="11" height="13" fill="#fff" stroke="#777"/><path d="M548.5,3.5 h4 v4 h4 v4 h-4 v4 h-4 v-4 h-4 v-4 h4 z" fill="#2fd82f" stroke="#1a9a1a" stroke-width="1"/><polygon points="562.0,3 569.0,3 565.5,7" fill="#000"/><circle cx="587" cy="5" r="8" fill="#2c6fd0"/><circle cx="587" cy="5" r="5.6" fill="#eef4fa"/><path d="M587,1 v4 h3" fill="none" stroke="#333" stroke-width="1"/><polygon points="600.5,3 607.5,3 604.0,7" fill="#000"/><rect x="618.5" y="-2.5" width="15" height="13" fill="#fff" stroke="#3a78d8"/><path d="M620,2 l3,-1 l3,1 l3,-1 l3,1" fill="none" stroke="#c03020"/><path d="M620,7 l3,-1 l3,1 l3,-2 l3,1" fill="none" stroke="#20a020"/><rect x="619" y="4" width="14" height="1" fill="#3a78d8"/><polygon points="640.0,3 647.0,3 643.5,7" fill="#000"/><rect x="652" y="0" width="1" height="15" fill="#a0a0a0"/><rect x="656" y="1" width="3" height="1" fill="#b0b0b0"/><rect x="656" y="3" width="3" height="1" fill="#b0b0b0"/><rect x="656" y="5" width="3" height="1" fill="#b0b0b0"/><rect x="656" y="7" width="3" height="1" fill="#b0b0b0"/><rect x="656" y="9" width="3" height="1" fill="#b0b0b0"/><rect x="656" y="11" width="3" height="1" fill="#b0b0b0"/><rect x="656" y="13" width="3" height="1" fill="#b0b0b0"/><rect x="662" y="0" width="25" height="16" fill="#f7f7f7"/><rect x="662" y="0" width="1" height="16" fill="#a0a0a0"/><polygon points="670,-1 670,11 673,8 676,13 678,12 675,7 679,7" fill="#505050"/><rect x="702" y="0" width="1" height="12" fill="#5a5a5a"/><rect x="695" y="5" width="15" height="1" fill="#5a5a5a"/><rect x="719" y="0" width="1" height="15" fill="#a0a0a0"/><rect x="736" y="0" width="1" height="12" fill="#5a5a5a"/><rect x="759" y="5" width="12" height="1" fill="#5a5a5a"/><line x1="786.5" y1="12" x2="799" y2="0" stroke="#5a5a5a" stroke-width="1"/><path d="M813,10 l10,-10 M815,12 l10,-10 M814,4 l3,3 M817,1 l3,3 M818,7 l3,3" fill="none" stroke="#5a5a5a" stroke-width="1"/><text x="824" y="14" font-size="7" font-weight="bold" fill="#5a5a5a">E</text><line x1="842" y1="1.5" x2="855" y2="1.5" stroke="#5a5a5a" stroke-dasharray="1,1"/><line x1="842" y1="5.5" x2="855" y2="5.5" stroke="#5a5a5a" stroke-dasharray="1,1"/><line x1="842" y1="9.5" x2="855" y2="9.5" stroke="#5a5a5a" stroke-dasharray="1,1"/><text x="851.5" y="14.5" font-size="7" font-weight="bold" fill="#5a5a5a">F</text><text x="872" y="10" font-size="12" font-weight="bold" fill="#5a5a5a">A</text><rect x="899.5" y="1.5" width="11" height="10" fill="none" stroke="#5a5a5a" stroke-dasharray="1,1"/><text x="901" y="10" font-size="11" font-weight="bold" fill="#5a5a5a">T</text><path d="M927,4 l3,3 l5,-6" fill="none" stroke="#5a5a5a" stroke-width="1.5"/><polygon points="930,-1 933,2 930,5 927,2" fill="#5a5a5a"/><polygon points="936,6 939,9 936,12 933,9" fill="#5a5a5a"/><polygon points="946.0,3 953.0,3 949.5,7" fill="#000"/><rect x="958" y="0" width="1" height="15" fill="#a0a0a0"/><rect x="962" y="1" width="3" height="1" fill="#b0b0b0"/><rect x="962" y="3" width="3" height="1" fill="#b0b0b0"/><rect x="962" y="5" width="3" height="1" fill="#b0b0b0"/><rect x="962" y="7" width="3" height="1" fill="#b0b0b0"/><rect x="962" y="9" width="3" height="1" fill="#b0b0b0"/><rect x="962" y="11" width="3" height="1" fill="#b0b0b0"/><rect x="962" y="13" width="3" height="1" fill="#b0b0b0"/><rect x="1137" y="0" width="24" height="16" fill="#f7f7f7"/><rect x="1137" y="0" width="1" height="16" fill="#a0a0a0"/><text x="973.7" y="9" font-size="9.8" fill="#3a3a3a" stroke="#3a3a3a" stroke-width="0.22" textLength="12.78" lengthAdjust="spacingAndGlyphs" >M1</text><text x="1001.7" y="9" font-size="9.8" fill="#3a3a3a" stroke="#3a3a3a" stroke-width="0.22" textLength="12.78" lengthAdjust="spacingAndGlyphs" >M5</text><text x="1027.7" y="9" font-size="9.8" fill="#3a3a3a" stroke="#3a3a3a" stroke-width="0.22" textLength="17.90" lengthAdjust="spacingAndGlyphs" >M15</text><text x="1055.7" y="9" font-size="9.8" fill="#3a3a3a" stroke="#3a3a3a" stroke-width="0.22" textLength="17.90" lengthAdjust="spacingAndGlyphs" >M30</text><text x="1086.7" y="9" font-size="9.8" fill="#3a3a3a" stroke="#3a3a3a" stroke-width="0.22" textLength="11.76" lengthAdjust="spacingAndGlyphs" >H1</text><text x="1113.7" y="9" font-size="9.8" fill="#3a3a3a" stroke="#3a3a3a" stroke-width="0.22" textLength="11.76" lengthAdjust="spacingAndGlyphs" >H4</text><text x="1142.7" y="9" font-size="9.8" fill="#3a3a3a" stroke="#3a3a3a" stroke-width="0.22" textLength="11.76" lengthAdjust="spacingAndGlyphs" >D1</text><text x="1170.2" y="9" font-size="9.8" fill="#3a3a3a" stroke="#3a3a3a" stroke-width="0.22" textLength="13.80" lengthAdjust="spacingAndGlyphs" >W1</text><text x="1196.7" y="9" font-size="9.8" fill="#3a3a3a" stroke="#3a3a3a" stroke-width="0.22" textLength="14.31" lengthAdjust="spacingAndGlyphs" >MN</text><rect x="1219" y="0" width="1" height="15" fill="#a0a0a0"/><circle cx="1689.5" cy="3" r="3.6" fill="none" stroke="#2a62d0" stroke-width="1.3"/><line x1="1686.5" y1="6" x2="1682.5" y2="10" stroke="#2a62d0" stroke-width="2.2"/><ellipse cx="1722" cy="2" rx="6" ry="4.5" fill="#e8e8ee" stroke="#909090"/><ellipse cx="1713" cy="6" rx="6" ry="4.5" fill="#f0f0f4" stroke="#909090"/><path d="M1711,10 l-1,2 l3,-2" fill="#f0f0f4" stroke="#909090"/></g>
</svg></body></html>
